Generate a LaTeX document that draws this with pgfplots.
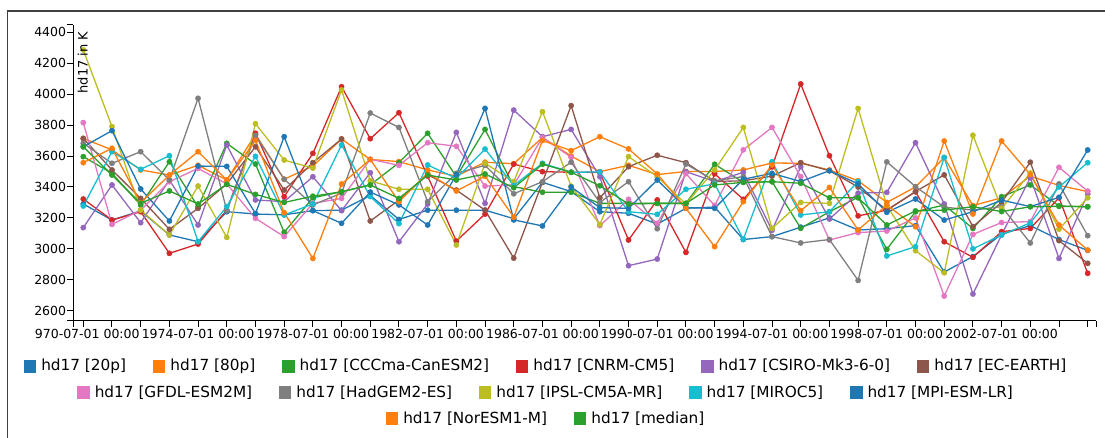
\documentclass[border=0pt]{standalone}
\usepackage{fontspec}
\setmainfont{DejaVu Sans}
\usepackage{pgfplots}
\pgfplotsset{compat=1.18}
\usepackage{pgfplotstable}
\definecolor{cBlue}{HTML}{1F77B4}
\definecolor{cOrange}{HTML}{FF7F0E}
\definecolor{cGreen}{HTML}{2CA02C}
\definecolor{cRed}{HTML}{D62728}
\definecolor{cPurple}{HTML}{9467BD}
\definecolor{cBrown}{HTML}{8C564B}
\definecolor{cPink}{HTML}{E377C2}
\definecolor{cGrey}{HTML}{7F7F7F}
\definecolor{cOlive}{HTML}{BCBD22}
\definecolor{cCyan}{HTML}{17BECF}

\pgfplotstableread{
x P20 P80 CAN CNRM CSIRO EC GFDL HAD IPSL MIROC MPI NOR MED
0 3290 3714 3596 3322 3137 3714 3816 3682 4286 3277 3660 3557 3660
1 3186 3640 3488 3186 3413 3510 3158 3553 3790 3628 3764 3650 3477
2 3245 3510 3283 3240 3169 3326 3250 3628 3251 3514 3387 3298 3294
3 3090 3477 3563 2971 3445 3126 3434 3445 3089 3602 3180 3477 3374
4 3046 3540 3272 3031 3154 3262 3520 3973 3406 3046 3535 3628 3290
5 3240 3445 3682 3250 3671 3420 3420 3247 3074 3273 3533 3445 3417
6 3225 3740 3548 3747 3316 3660 3197 3734 3809 3598 3228 3700 3352
7 3220 3450 3107 3337 3305 3380 3079 3450 3574 3219 3725 3234 3300
8 3247 3535 3330 3617 3466 3557 3294 3284 3522 3290 3247 2938 3340
9 3250 3710 3369 4048 3247 3710 3326 3360 4027 3672 3165 3419 3369
10 3345 3578 3413 3712 3492 3180 3579 3878 3440 3338 3367 3578 3413
11 3190 3564 3557 3880 3046 3315 3540 3785 3385 3163 3284 3305 3326
12 3250 3510 3747 3470 3290 3480 3686 3305 3385 3542 3154 3490 3477
13 3250 3470 3466 3050 3753 3380 3663 3488 3025 3456 3480 3374 3445
14 3250 3560 3772 3225 3294 3250 3406 3540 3553 3645 3908 3470 3484
15 3195 3550 3402 3548 3897 2940 3413 3356 3434 3410 3187 3205 3395
16 3430 3720 3366 3499 3725 3430 3720 3434 3887 3553 3148 3700 3547
17 3370 3600 3366 3495 3772 3926 3592 3560 3405 3495 3400 3635 3495
18 3240 3499 3294 3495 3466 3330 3150 3300 3157 3497 3266 3725 3408
19 3230 3540 3294 3057 2891 3531 3320 3434 3596 3240 3262 3646 3290
20 3160 3480 3294 3316 2934 3605 3165 3130 3467 3223 3445 3484 3294
21 3262 3500 3294 2977 3499 3557 3486 3548 3290 3385 3266 3262 3294
22 3270 3500 3547 3485 3435 3435 3280 3440 3510 3420 3262 3014 3413
23 3060 3510 3430 3320 3495 3440 3640 3467 3785 3062 3450 3305 3430
24 3079 3555 3434 3530 3120 3470 3785 3079 3132 3563 3488 3542 3434
25 3140 3553 3133 4066 3531 3557 3467 3038 3300 3219 3435 3247 3424
26 3200 3510 3240 3602 3193 3505 3057 3060 3294 3240 3505 3397 3330
27 3122 3440 3333 3213 3360 3400 3105 2796 3908 3435 3420 3122 3330
28 3130 3300 2997 3250 3365 3250 3115 3562 3280 2954 3236 3283 3154
29 3150 3400 3240 3369 3686 3370 3200 3402 2988 3014 3322 3143 3245
30 2850 3590 3283 3046 3290 3478 2695 3270 2845 3591 3186 3697 3250
31 2950 3280 3132 2945 2708 3144 3093 3250 3734 3000 3240 3225 3272
32 3095 3330 3337 3111 3090 3300 3170 3273 3262 3090 3315 3697 3241
33 3150 3470 3413 3132 3460 3560 3176 3038 3490 3168 3273 3480 3272
34 3060 3410 3277 3330 2938 3053 3527 3420 3127 3400 3333 3154 3275
35 2990 3370 3272 2842 3354 2906 3373 3085 3330 3557 3639 2992 3272
}\data

\newcommand{\legentry}[2]{\textcolor{#1}{\rule[-1.7pt]{12.7pt}{12.7pt}}\hspace{5pt}#2}
\newcommand{\leggap}{\hspace{26.6pt}}

\begin{document}
\begin{tikzpicture}[x=1pt,y=1pt]
\useasboundingbox (0,0) rectangle (1105,438);
\draw[line width=1.3pt, black!75] (7.3,-10) -- (7.3,427) -- (1120,427);
\begin{axis}[
  at={(73.3pt,117pt)}, anchor=south west,
  scale only axis, width=1022.7pt, height=296pt,
  xmin=-0.348, xmax=35.29, ymin=2533.4, ymax=4447.2,
  axis x line=bottom, axis y line=left,
  axis line style={-, line width=1pt, black},
  tick align=outside, major tick length=6pt,
  tick style={black, line width=1pt},
  xtick={0,...,35},
  xticklabels={{\hphantom{1}970-07-01 00:00},,,,{1974-07-01 00:00},,,,{1978-07-01 00:00},,,,{1982-07-01 00:00},,,,{1986-07-01 00:00},,,,{1990-07-01 00:00},,,,{1994-07-01 00:00},,,,{1998-07-01 00:00},,,,{2002-07-01 00:00},,,},
  ytick={2600,2800,...,4400},
  extra x ticks={-0.348,35.29}, extra x tick labels={},
  extra y ticks={2533.4,4447.2}, extra y tick labels={},
  /pgf/number format/assume math mode=true,
  /pgf/number format/1000 sep={},
  yticklabel style={font=\fontsize{12.5}{15}\selectfont, anchor=east, inner sep=0pt, xshift=-1pt},
  xticklabel style={font=\fontsize{12.5}{15}\selectfont, anchor=north, inner sep=0pt, yshift=-2pt},
  clip=false,
  ser/.style={line width=1.3pt, mark=*, mark size=2.6pt, mark options={solid, line width=0.5pt}},
]
\addplot[ser, color=cBlue] table[x=x,y=P20] {\data};
\addplot[ser, color=cOrange] table[x=x,y=P80] {\data};
\addplot[ser, color=cGreen] table[x=x,y=CAN] {\data};
\addplot[ser, color=cRed] table[x=x,y=CNRM] {\data};
\addplot[ser, color=cPurple] table[x=x,y=CSIRO] {\data};
\addplot[ser, color=cBrown] table[x=x,y=EC] {\data};
\addplot[ser, color=cPink] table[x=x,y=GFDL] {\data};
\addplot[ser, color=cGrey] table[x=x,y=HAD] {\data};
\addplot[ser, color=cOlive] table[x=x,y=IPSL] {\data};
\addplot[ser, color=cCyan] table[x=x,y=MIROC] {\data};
\addplot[ser, color=cBlue] table[x=x,y=MPI] {\data};
\addplot[ser, color=cOrange] table[x=x,y=NOR] {\data};
\addplot[ser, color=cGreen] table[x=x,y=MED] {\data};
\end{axis}
\node[rotate=90, anchor=north east, inner sep=0pt, font=\fontsize{13}{15}\selectfont] at (77.5,406.5) {hd17 in K};
\begin{scope}[every node/.style={anchor=base, inner sep=0pt, font=\fontsize{15.3}{18}\selectfont}]
\node at (545,67) {\legentry{cBlue}{hd17 [20p]}\leggap\legentry{cOrange}{hd17 [80p]}\leggap\legentry{cGreen}{hd17 [CCCma-CanESM2]}\leggap\legentry{cRed}{hd17 [CNRM-CM5]}\leggap\legentry{cPurple}{hd17 [CSIRO-Mk3-6-0]}\leggap\legentry{cBrown}{hd17 [EC-EARTH]}};
\node at (545,40.8) {\legentry{cPink}{hd17 [GFDL-ESM2M]}\leggap\legentry{cGrey}{hd17 [HadGEM2-ES]}\leggap\legentry{cOlive}{hd17 [IPSL-CM5A-MR]}\leggap\legentry{cCyan}{hd17 [MIROC5]}\leggap\legentry{cBlue}{hd17 [MPI-ESM-LR]}};
\node at (545,14.6) {\legentry{cOrange}{hd17 [NorESM1-M]}\leggap\legentry{cGreen}{hd17 [median]}};
\end{scope}
\end{tikzpicture}
\end{document}
